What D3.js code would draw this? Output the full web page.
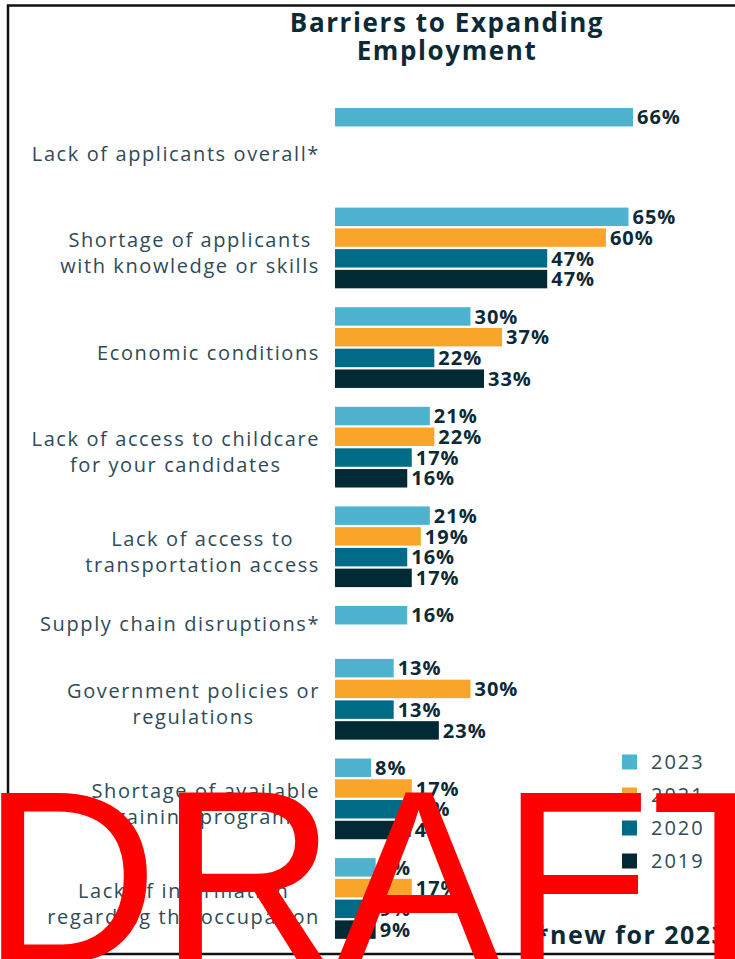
<!DOCTYPE html>
<html>
<head>
<meta charset="utf-8">
<script src="https://cdn.jsdelivr.net/npm/d3@7"></script>
<style>
  html, body { margin: 0; padding: 0; background: #fff; }
  svg { display: block; }
</style>
</head>
<body>
<script>
// Survey responses: barriers employers face in expanding employment (% of respondents)
const categories = [
  "Lack of applicants overall*",
  "Shortage of applicants\nwith knowledge or skills",
  "Economic conditions",
  "Lack of access to childcare\nfor your candidates",
  "Lack of access to\ntransportation access",
  "Supply chain disruptions*",
  "Government policies or\nregulations",
  "Shortage of available\ntraining programs",
  "Lack of information\nregarding the occupation"
];
const years = ["2023", "2021", "2020", "2019"];
const values2023 = [66, 65, 30, 21, 21, 16, 13, 8, 9];
const values2021 = [null, 60, 37, 22, 19, null, 30, 17, 17];
const values2020 = [null, 47, 22, 17, 16, null, 13, 15, 9];
const values2019 = [null, 47, 33, 16, 17, null, 23, 14, 9];
const footnote = "*new for 2023";
const watermark = "DRAFT";

const seriesValues = [values2023, values2021, values2020, values2019];
const colors = ["#4fb3d0", "#f9a52a", "#006b87", "#022a35"];

const W = 735, H = 959;
const svg = d3.select("body").append("svg").attr("width", W).attr("height", H);
const font = "'Open Sans', sans-serif";

// frame
svg.append("rect")
  .attr("x", 8).attr("y", 5.5).attr("width", 780).attr("height", 948.5)
  .attr("fill", "none").attr("stroke", "#111").attr("stroke-width", 2.5);

// title
const title = svg.append("text")
  .attr("text-anchor", "middle")
  .attr("font-family", font)
  .attr("font-weight", 700)
  .attr("font-size", 26)
  .attr("letter-spacing", 1.6)
  .attr("fill", "#0b2a36");
title.append("tspan").attr("x", 447).attr("y", 32).text("Barriers to Expanding");
title.append("tspan").attr("x", 447).attr("y", 60).text("Employment");

// layout: rows per group (supply chain group is compact), gap between groups
const rowSpan = [4, 4, 4, 4, 4, 1.75, 4, 4, 4];
const gapUnits = 0.8, barUnits = 0.89;
const groupStart = [];
let u = 0;
rowSpan.forEach(s => { groupStart.push(u); u += s + gapUnits; });

const y = d3.scaleLinear().domain([0, 1]).range([108, 128.75]);
const x0 = 335;
const x = d3.scaleLinear().domain([0, 66]).range([0, 298]);

const bars = [];
categories.forEach((c, gi) => {
  seriesValues.forEach((vals, si) => {
    const v = vals[gi];
    if (v != null) bars.push({ gi, si, v });
  });
});

const barH = y(barUnits) - y(0);

svg.append("g").selectAll("rect")
  .data(bars)
  .join("rect")
  .attr("x", x0)
  .attr("y", d => y(groupStart[d.gi] + d.si))
  .attr("width", d => x(d.v))
  .attr("height", barH)
  .attr("fill", d => colors[d.si]);

svg.append("g").selectAll("text")
  .data(bars)
  .join("text")
  .attr("x", d => x0 + x(d.v) + 4)
  .attr("y", d => y(groupStart[d.gi] + d.si) + barH / 2)
  .attr("dy", "0.36em")
  .attr("font-family", font)
  .attr("font-weight", 700)
  .attr("font-size", 20)
  .attr("letter-spacing", 1)
  .attr("fill", "#0b2a36")
  .text(d => d.v + "%");

// category labels: lines centred on each other, block right-aligned
const labelRight = 320;
const lineH = 26;
categories.forEach((c, gi) => {
  const lines = c.split("\n");
  const top = y(groupStart[gi]);
  const bottom = y(groupStart[gi] + rowSpan[gi] - 1 + barUnits);
  const centre = (top + bottom) / 2 + (rowSpan[gi] >= 4 ? 5 : 1);
  const g = svg.append("g");
  const texts = lines.map((line, li) => g.append("text")
    .attr("font-family", font)
    .attr("font-size", 20)
    .attr("letter-spacing", 1.6)
    .attr("fill", "#2e4b57")
    .attr("text-anchor", "middle")
    .attr("y", centre - (lines.length - 1) * lineH / 2 + li * lineH)
    .attr("dy", "0.36em")
    .text(line));
  const widest = d3.max(texts, t => t.node().getComputedTextLength());
  texts.forEach(t => t.attr("x", labelRight - widest / 2));
});

// legend
const legend = svg.append("g");
years.forEach((yr, i) => {
  const cy = 762 + i * 33;
  legend.append("rect")
    .attr("x", 622).attr("y", cy - 7.5).attr("width", 15).attr("height", 15)
    .attr("fill", colors[i]);
  legend.append("text")
    .attr("x", 651).attr("y", cy).attr("dy", "0.36em")
    .attr("font-family", font)
    .attr("font-size", 20)
    .attr("letter-spacing", 2)
    .attr("fill", "#2e4b57")
    .text(yr);
});

// footnote
svg.append("text")
  .attr("x", 535).attr("y", 944)
  .attr("font-family", font)
  .attr("font-weight", 700)
  .attr("font-size", 25)
  .attr("letter-spacing", 1.5)
  .attr("fill", "#0b2a36")
  .text(footnote);

// watermark
svg.append("text")
  .attr("x", -19).attr("y", 963)
  .attr("font-family", "'Liberation Sans', Arial, sans-serif")
  .attr("font-size", 246)
  .attr("fill", "#ff0000")
  .text(watermark);
</script>
</body>
</html>
